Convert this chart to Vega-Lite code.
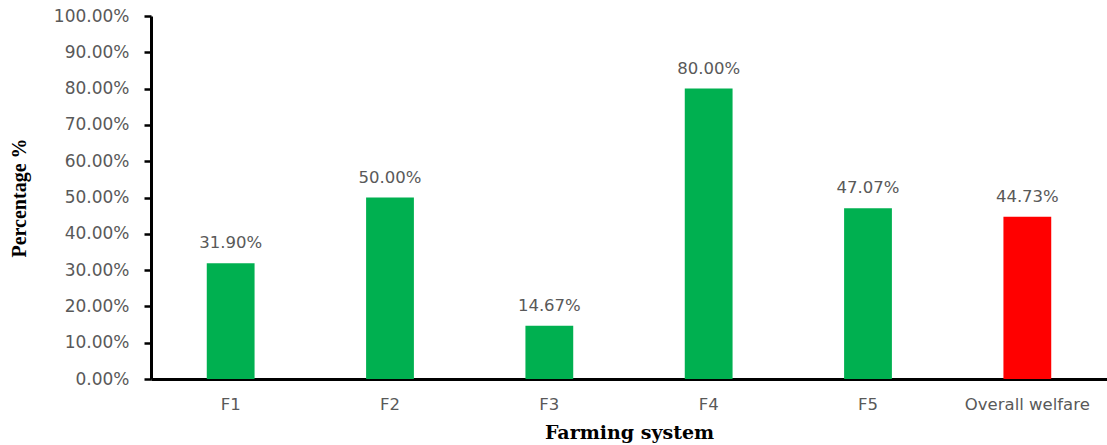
{
  "$schema": "https://vega.github.io/schema/vega-lite/v6.json",
  "autosize": {"type": "none"},
  "width": 956,
  "height": 363,
  "padding": {"left": 151, "top": 16, "right": 0, "bottom": 66},
  "background": "white",
  "config": {"view": {"stroke": null}},
  "data": {"values": [
    {"system": "F1", "value": 0.319, "kind": "farm"},
    {"system": "F2", "value": 0.5, "kind": "farm"},
    {"system": "F3", "value": 0.1467, "kind": "farm"},
    {"system": "F4", "value": 0.8, "kind": "farm"},
    {"system": "F5", "value": 0.4707, "kind": "farm"},
    {"system": "Overall welfare", "value": 0.4473, "kind": "overall"}
  ]},
  "encoding": {
    "x": {"field": "system", "type": "nominal", "sort": null,
      "scale": {"paddingInner": 0.7, "paddingOuter": 0.35},
      "axis": {"title": "Farming system", "labelAngle": 0, "ticks": false, "domainColor": "black", "domainWidth": 3,
        "labelFont": "DejaVu Sans", "labelFontSize": 16.5, "labelColor": "#595959", "labelPadding": 17,
        "titleFont": "DejaVu Serif", "titleFontSize": 19, "titleFontWeight": "bold", "titleColor": "black", "titlePadding": 11}},
    "y": {"field": "value", "type": "quantitative",
      "scale": {"domain": [0, 1], "nice": false},
      "axis": {"title": "Percentage %", "format": ".2%", "labelOverlap": false, "values": [0,0.1,0.2,0.3,0.4,0.5,0.6,0.7,0.8,0.9,1.0],
        "grid": false, "domainColor": "black", "domainWidth": 3, "tickColor": "black", "tickWidth": 2.5, "tickSize": 7,
        "labelFont": "DejaVu Sans", "labelFontSize": 17, "labelColor": "#595959", "labelPadding": 15,
        "titleFont": "Liberation Serif", "titleFontSize": 20, "titleFontWeight": "bold", "titleColor": "black", "titlePadding": 24}}
  },
  "layer": [
    {"mark": {"type": "bar"},
     "encoding": {"color": {"field": "kind", "type": "nominal", "scale": {"domain": ["farm", "overall"], "range": ["#00B050", "#FF0000"]}, "legend": null}}},
    {"mark": {"type": "text", "dy": -20, "font": "DejaVu Sans", "fontSize": 16.5, "color": "#595959"},
     "encoding": {"text": {"field": "value", "type": "quantitative", "format": ".2%"}}}
  ]
}
